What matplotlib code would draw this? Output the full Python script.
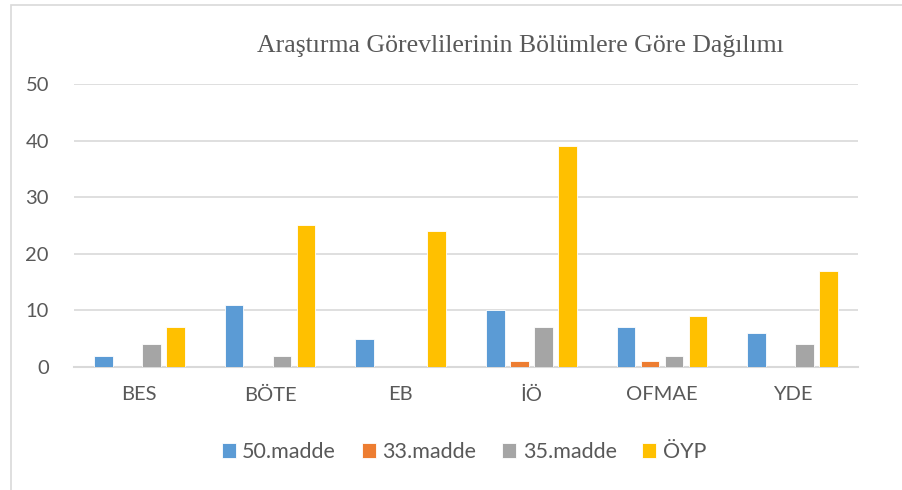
import matplotlib.pyplot as plt
import matplotlib.patches as mpatches
import numpy as np

# Data
categories = ["BES", "BÖTE", "EB", "İÖ", "OFMAE", "YDE"]
series_names = ["50.madde", "33.madde", "35.madde", "ÖYP"]
madde50 = [2, 11, 5, 10, 7, 6]
madde33 = [0, 0, 0, 1, 1, 0]
madde35 = [4, 2, 0, 7, 2, 4]
oyp = [7, 25, 24, 39, 9, 17]
colors = ["#5b9bd5", "#ed7d31", "#a5a5a5", "#ffc000"]

plt.rcParams['font.family'] = ['Lato', 'DejaVu Sans']
text_color = "#595959"

fig = plt.figure(figsize=(9.02, 4.9), dpi=100)
ax = fig.add_axes([74 / 902, 1 - 367 / 490, 784 / 902, 283 / 490])

# chart frame
fig.patches.append(mpatches.Rectangle((11 / 902, -0.1), 1.0, 1 - 5 / 490 + 0.1,
                                      transform=fig.transFigure, fill=False,
                                      edgecolor="#d9d9d9", lw=1.2))

x = np.arange(len(categories))
width = 0.145
offsets = [-0.2755, -0.0918, 0.0918, 0.2755]
all_series = [madde50, madde33, madde35, oyp]

for vals, off, col, name in zip(all_series, offsets, colors, series_names):
    ax.bar(x + off, vals, width, color=col, label=name,
           edgecolor="white", linewidth=0.6, zorder=3)

ax.set_xlim(-0.5, len(categories) - 0.5)
ax.set_ylim(0, 50)
ax.set_yticks(range(0, 51, 10))
ax.set_xticks(x)
ax.set_xticklabels(categories)
ax.grid(axis="y", color="#d9d9d9", lw=1.2, zorder=0)
for s in ["top", "right", "left"]:
    ax.spines[s].set_visible(False)
ax.spines["bottom"].set_color("#d9d9d9")
ax.spines["bottom"].set_linewidth(1.5)
ax.tick_params(length=0, labelsize=14.5, colors=text_color)
ax.tick_params(axis="y", pad=18)
ax.tick_params(axis="x", pad=14)

fig.text(520 / 902, 1 - 46 / 490, "Araştırma Görevlilerinin Bölümlere Göre Dağılımı",
         family=["Liberation Serif", "DejaVu Serif"], fontsize=18.5,
         color=text_color, ha="center", va="center")

leg = fig.legend(loc="center", bbox_to_anchor=(464 / 902, 1 - 452 / 490), ncol=4,
                 frameon=False, fontsize=15.5, handlelength=0.65, handleheight=0.65,
                 handletextpad=0.3, columnspacing=1.2, labelcolor=text_color)

fig.savefig("out.png", dpi=100)
